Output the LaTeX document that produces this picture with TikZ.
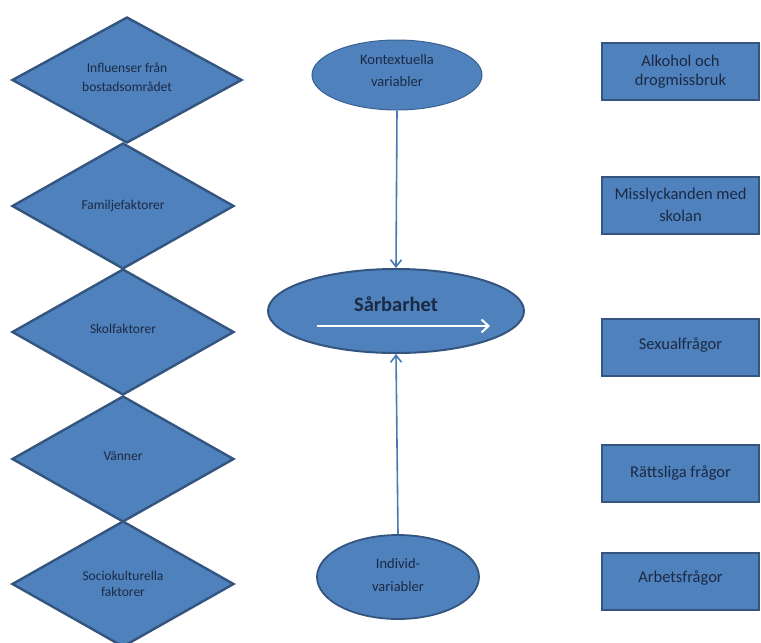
\documentclass[tikz,border=0pt]{standalone}
\usepackage{fontspec}
\setmainfont{Carlito}
\usetikzlibrary{shapes.geometric,arrows.meta}
\definecolor{boxfill}{HTML}{4F81BD}
\definecolor{boxline}{HTML}{34557F}
\definecolor{txt}{HTML}{1B2A44}
\definecolor{conn}{HTML}{4A7AB5}
\begin{document}
\begin{tikzpicture}[x=1pt,y=-1pt,
  dia/.style={diamond, draw=boxline, line width=2.4pt, fill=boxfill, inner sep=0pt,
    minimum height=126pt, minimum width=222pt, text=txt, align=center,
    font=\fontsize{13.5}{18}\selectfont},
  ell/.style={ellipse, draw=boxline, line width=1.8pt, fill=boxfill, inner sep=0pt,
    text=txt, align=center, font=\fontsize{14.5}{22}\selectfont},
  box/.style={rectangle, draw=boxline, line width=2pt, fill=boxfill, inner sep=0pt,
    minimum width=157pt, minimum height=57pt, text=txt, align=center,
    font=\fontsize{16.5}{22}\selectfont},
  conn/.style={draw=conn, line width=1.6pt, -{Straight Barb[length=7pt,width=11pt]}}]
\useasboundingbox (0,0) rectangle (761,643);
\fill[white] (0,0) rectangle (761,643);

% diamonds
\node[dia, minimum width=230pt] (d1) at (127,80) {\raisebox{6pt}{\shortstack{Influenser från\\[6pt]bostadsområdet}}};
\node[dia] (d2) at (123,206) {Familjefaktorer};
\node[dia] (d3) at (123,332) {\raisebox{6pt}{Skolfaktorer}};
\node[dia] (d4) at (123,459) {\raisebox{6pt}{Vänner}};
\node[dia] (d5) at (123,584) {\shortstack{Sociokulturella\\[4pt]faktorer}};

% ellipses
\node[ell, line width=1pt, draw=conn!80!black, minimum width=170pt, minimum height=70pt] (kon) at (397,75) {\raisebox{9pt}{\shortstack{Kontextuella\\[9pt]variabler}}};
\node[ell, line width=2pt, minimum width=256pt, minimum height=84pt, font=\fontsize{20.5}{24}\selectfont\bfseries] (sar) at (396,311) {\raisebox{13pt}{Sårbarhet}};
\node[ell, minimum width=162pt, minimum height=84pt] (ind) at (398,577) {\raisebox{4pt}{\shortstack{Individ-\\[10pt]variabler}}};

% white arrow inside Sårbarhet
\coordinate (wa1) at ([shift={(-79,15)}]sar.center);
\coordinate (wa2) at ([shift={(94,15)}]sar.center);
\draw[white, line width=2pt, -{Straight Barb[length=7pt,width=13pt]}] (wa1) -- (wa2);

% connectors
\draw[conn] (kon.south) -- (sar.north);
\draw[conn] (ind.north) -- (sar.south);

% boxes
\node[box] (b1) at (680.5,71.5) {\raisebox{-2pt}{\shortstack{Alkohol och\\[5pt]drogmissbruk}}};
\node[box] (b2) at (680.5,205) {\shortstack{Misslyckanden med\\[5pt]skolan}};
\node[box] (b3) at (680.5,347.5) {\raisebox{8pt}{Sexualfrågor}};
\node[box] (b4) at (680.5,473.5) {\raisebox{4pt}{Rättsliga frågor}};
\node[box] (b5) at (680.5,581) {\raisebox{8pt}{Arbetsfrågor}};
\end{tikzpicture}
\end{document}
